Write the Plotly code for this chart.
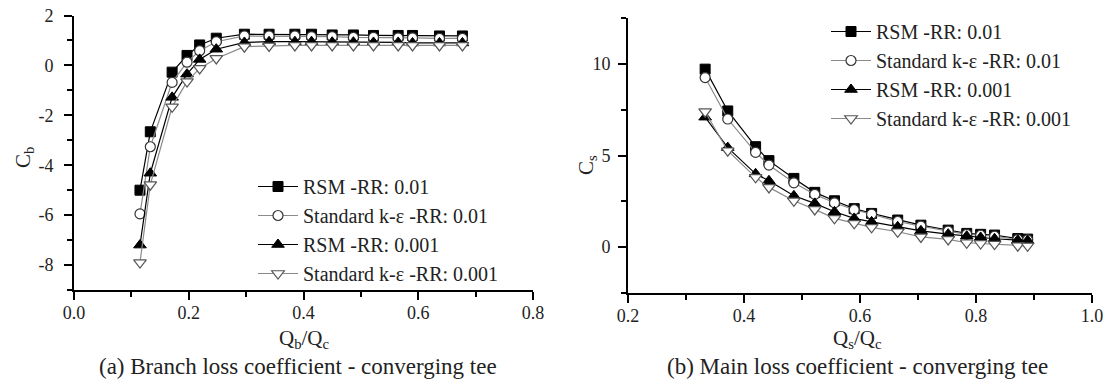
import plotly.graph_objects as go

# ---- (a) branch loss coefficient, converging tee ----
qb_ratio = [0.115, 0.133, 0.171, 0.197, 0.219, 0.248, 0.297, 0.340, 0.385,
            0.414, 0.450, 0.487, 0.522, 0.565, 0.590, 0.637, 0.677]
cb_rsm_01 = [-5.0, -2.66, -0.27, 0.40, 0.82, 1.09, 1.25, 1.25, 1.25,
             1.25, 1.22, 1.22, 1.20, 1.20, 1.20, 1.18, 1.18]
cb_ke_01 = [-5.95, -3.26, -0.68, 0.13, 0.59, 0.95, 1.18, 1.18, 1.18,
            1.15, 1.15, 1.12, 1.12, 1.10, 1.10, 1.08, 1.08]
cb_rsm_001 = [-7.2, -4.32, -1.28, -0.35, 0.24, 0.65, 0.92, 0.95, 0.95,
              0.95, 0.93, 0.93, 0.92, 0.92, 0.90, 0.90, 0.90]
cb_ke_001 = [-7.9, -4.78, -1.66, -0.65, -0.12, 0.28, 0.75, 0.78, 0.80,
             0.80, 0.80, 0.80, 0.80, 0.80, 0.80, 0.80, 0.80]

# ---- (b) main loss coefficient, converging tee ----
qs_ratio = [0.333, 0.372, 0.420, 0.443, 0.486, 0.522, 0.556, 0.590, 0.620,
            0.665, 0.705, 0.752, 0.784, 0.808, 0.832, 0.872, 0.889]
cs_rsm_01 = [9.71, 7.43, 5.48, 4.72, 3.75, 2.99, 2.53, 2.10, 1.84,
             1.48, 1.20, 0.93, 0.75, 0.70, 0.66, 0.47, 0.44]
cs_ke_01 = [9.25, 6.99, 5.17, 4.48, 3.51, 2.88, 2.42, 2.04, 1.80,
            1.40, 1.15, 0.88, 0.70, 0.65, 0.60, 0.42, 0.40]
cs_rsm_001 = [7.09, 5.43, 4.00, 3.62, 2.80, 2.39, 1.93, 1.57, 1.38,
              1.11, 0.89, 0.71, 0.60, 0.53, 0.46, 0.38, 0.36]
cs_ke_001 = [7.39, 5.26, 3.81, 3.26, 2.53, 2.06, 1.57, 1.30, 1.08,
             0.84, 0.56, 0.42, 0.24, 0.20, 0.17, 0.08, 0.07]

series_names = ["RSM -RR: 0.01", "Standard k-ε -RR: 0.01",
                "RSM -RR: 0.001", "Standard k-ε -RR: 0.001"]

left_ytick_vals = [-8, -6, -4, -2, 0, 2]
left_ytick_text = ["-8", "-6", "-4", "-2", "0", "2"]
right_ytick_vals = [0, 5, 10]
right_ytick_text = ["0", "5", "10"]

FONT = "Liberation Serif, Times New Roman, serif"
TEXT = "#222222"
W, H = 1109, 379

styles = [
    dict(line=dict(color="#000000", width=1.2),
         marker=dict(symbol="square", size=10, color="#000000",
                     line=dict(color="#000000", width=1))),
    dict(line=dict(color="#8a8a8a", width=1.2),
         marker=dict(symbol="circle", size=10, color="#ffffff",
                     line=dict(color="#333333", width=1.2))),
    dict(line=dict(color="#000000", width=1.2),
         marker=dict(symbol="triangle-up", size=11, color="#000000",
                     line=dict(color="#000000", width=1))),
    dict(line=dict(color="#8a8a8a", width=1.2),
         marker=dict(symbol="triangle-down", size=11, color="#ffffff",
                     line=dict(color="#555555", width=1.2))),
]

fig = go.Figure()

left_sets = [cb_rsm_01, cb_ke_01, cb_rsm_001, cb_ke_001]
right_sets = [cs_rsm_01, cs_ke_01, cs_rsm_001, cs_ke_001]

for i, (name, ys) in enumerate(zip(series_names, left_sets)):
    fig.add_trace(go.Scatter(
        x=qb_ratio, y=ys, name=name, mode="lines+markers",
        xaxis="x", yaxis="y", legend="legend", legendgroup=f"a{i}",
        **styles[i]))

for i, (name, ys) in enumerate(zip(series_names, right_sets)):
    fig.add_trace(go.Scatter(
        x=qs_ratio, y=ys, name=name, mode="lines+markers",
        xaxis="x2", yaxis="y2", legend="legend2", legendgroup=f"b{i}",
        **styles[i]))

axis_common = dict(
    showline=True, linecolor="#000000", linewidth=2,
    ticks="outside", ticklen=8, tickwidth=1.5, tickcolor="#000000",
    showgrid=False, zeroline=False, mirror=False,
    tickfont=dict(family=FONT, size=18, color=TEXT),
)
minor_common = dict(ticks="outside", ticklen=5, tickwidth=1.5,
                    tickcolor="#000000")


def px_x(p):
    return p / W


def px_y(p):
    return 1 - p / H


legend_common = dict(xanchor="left", yanchor="top",
                     bgcolor="rgba(0,0,0,0)", borderwidth=0,
                     font=dict(family=FONT, size=20, color=TEXT),
                     tracegroupgap=0, itemwidth=40)

fig.update_layout(
    width=W, height=H,
    margin=dict(l=0, r=0, t=0, b=0, autoexpand=False),
    paper_bgcolor="#ffffff", plot_bgcolor="#ffffff",
    font=dict(family=FONT, size=18, color=TEXT),
    xaxis=dict(domain=[px_x(74), px_x(533)], range=[0, 0.8],
               dtick=0.2, tick0=0, tickformat=".1f", anchor="y",
               ticklabelstandoff=-3,
               minor=dict(dtick=0.1, **minor_common), **axis_common),
    yaxis=dict(domain=[px_y(290), px_y(15.5)], range=[-9, 2],
               tickvals=left_ytick_vals, ticktext=left_ytick_text,
               anchor="x", ticklabelstandoff=7,
               minor=dict(dtick=1, tick0=1, **minor_common), **axis_common),
    xaxis2=dict(domain=[px_x(628), px_x(1092)], range=[0.2, 1.0],
                dtick=0.2, tick0=0.2, tickformat=".1f", anchor="y2",
                ticklabelstandoff=-3,
                minor=dict(dtick=0.1, **minor_common), **axis_common),
    yaxis2=dict(domain=[px_y(293), px_y(18)], range=[-2.5, 12.5],
                tickvals=right_ytick_vals, ticktext=right_ytick_text,
                anchor="x2", ticklabelstandoff=4,
                minor=dict(dtick=2.5, tick0=0, **minor_common),
                **axis_common),
    legend=dict(x=px_x(253), y=px_y(167), **legend_common),
    legend2=dict(x=px_x(826), y=px_y(12), **legend_common),
    showlegend=True,
)

annotations = [
    # axis titles
    dict(text="Q<sub>b</sub>/Q<sub>c</sub>", x=px_x(304), y=px_y(339)),
    dict(text="Q<sub>s</sub>/Q<sub>c</sub>", x=px_x(858), y=px_y(339)),
    dict(text="C<sub>b</sub>", x=px_x(24), y=px_y(158), textangle=-90),
    dict(text="C<sub>s</sub>", x=px_x(587), y=px_y(165), textangle=-90),
]
captions = [
    dict(text="(a) Branch loss coefficient - converging tee",
         x=px_x(298), y=px_y(366)),
    dict(text="(b) Main loss coefficient - converging tee",
         x=px_x(858), y=px_y(366)),
]
for a in annotations:
    fig.add_annotation(xref="paper", yref="paper", showarrow=False,
                       xanchor="center", yanchor="middle",
                       font=dict(family=FONT, size=21, color=TEXT),
                       **a)
for a in captions:
    fig.add_annotation(xref="paper", yref="paper", showarrow=False,
                       xanchor="center", yanchor="middle",
                       font=dict(family=FONT, size=23, color=TEXT),
                       **a)

# pin the figure to the page's top-left corner
page_css = ("document.body.style.margin='0px';"
            "document.body.style.padding='0px';"
            "document.body.style.overflow='hidden';")

fig.write_html("out.html", config={"responsive": False},
               post_script=page_css)
